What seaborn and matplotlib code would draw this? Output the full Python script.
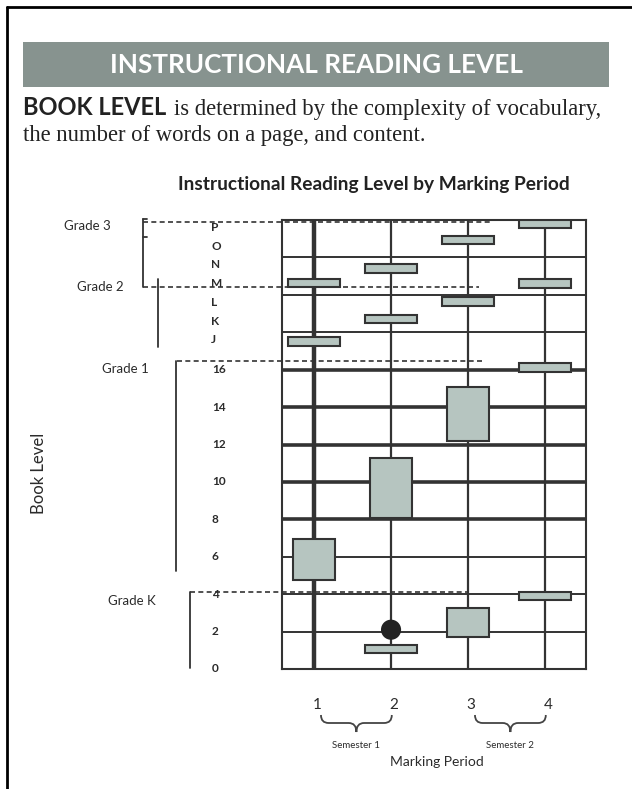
import matplotlib
matplotlib.use("Agg")
import matplotlib.pyplot as plt
import matplotlib.transforms as mtransforms
from matplotlib.lines import Line2D
from matplotlib.patches import Rectangle, PathPatch
from matplotlib.path import Path
import numpy as np
import pandas as pd
import seaborn as sns

# ---- values ----
periods = [1, 2, 3, 4]
period_labels = ["1", "2", "3", "4"]
semesters = ["Semester 1", "Semester 2"]
semester_start = [1, 3]
semester_end = [2, 4]

letter_levels = ["J", "K", "L", "M", "N", "O", "P"]
letter_pos = [17.6, 18.6, 19.6, 20.6, 21.6, 22.6, 23.6]
number_levels = [0, 2, 4, 6, 8, 10, 12, 14, 16]

grades = ["Grade K", "Grade 1", "Grade 2", "Grade 3"]
grade_start = [4.1, 16.45, 20.42, 23.9]
grade_top = [4.1, 16.45, 20.85, 24.05]
grade_bottom = [0.05, 5.25, 17.2, 20.42]

bar_period = [1, 1, 1, 2, 2, 2, 2, 3, 3, 3, 3, 4, 4, 4, 4]
bar_low = [20.42, 17.26, 4.76, 21.17, 18.49, 8.07, 0.86,
           22.71, 19.40, 12.19, 1.71, 23.57, 20.36, 15.87, 3.69]
bar_high = [20.84, 17.74, 6.95, 21.65, 18.92, 11.28, 1.28,
            23.14, 19.88, 15.07, 3.26, 24.0, 20.84, 16.35, 4.12]

dot_period = [2]
dot_level = [2.1]

# ---- style ----
W, H = 632, 789
line_c = "#333333"
box_c = "#b6c5c0"
band_c = "#87938f"
text_c = "#2b2b2b"
sans = ["Lato", "DejaVu Sans"]
serif = ["Liberation Serif", "DejaVu Serif"]

sns.set_theme(style="white")
plt.rcParams["font.family"] = sans

fig = plt.figure(figsize=(W / 100, H / 100), dpi=100)
# image pixel coords, y downwards
pix = mtransforms.Affine2D().scale(1 / W, -1 / H).translate(0, 1) + fig.transFigure

ax = fig.add_axes([282 / W, 1 - 669 / H, (586 - 282) / W, (669 - 220) / H])
px_y = mtransforms.blended_transform_factory(pix, ax.transData)
x_py = mtransforms.blended_transform_factory(ax.transData, pix)

# grid
for lv in range(2, 24, 2):
    ax.axhline(lv, color=line_c, lw=2.6 if 8 <= lv <= 16 else 1.4, zorder=1)
for p in periods:
    ax.axvline(p, color=line_c, lw=3.2 if p == 1 else 1.6, zorder=1)
for s in ax.spines.values():
    s.set_color(line_c)
    s.set_linewidth(1.5)

# grade dashed lines and brackets
dash_x0 = [190, 177, 143, 143]
dash_x1 = [468, 482, 479, 490]
bracket_x = [190, 176, 158, 143]
label_xy = [(132, 3.65), (125, 16.05), (100.5, 20.4), (87.5, 23.7)]
for i, g in enumerate(grades):
    ax.plot([dash_x0[i], dash_x1[i]], [grade_start[i]] * 2, transform=px_y,
            color=line_c, lw=1.2, ls=(0, (3, 2)), clip_on=False, zorder=2)
    ax.plot([bracket_x[i]] * 2, [grade_bottom[i], grade_top[i]], transform=px_y,
            color=line_c, lw=1.3, clip_on=False)
    ax.text(label_xy[i][0], label_xy[i][1], g, transform=px_y, ha="center",
            va="center", fontsize=9.5, color=text_c)
ax.plot([143, 147], [24.05, 24.05], transform=px_y, color=line_c, lw=1.3, clip_on=False)
ax.plot([143, 147], [23.1, 23.1], transform=px_y, color=line_c, lw=1.3, clip_on=False)

# level labels
for lab, pos in zip(letter_levels, letter_pos):
    ax.text(211, pos, lab, transform=px_y, ha="left", va="center",
            fontsize=8.5, fontweight="bold", color=text_c)
for v in number_levels:
    ax.text(212, v, str(v), transform=px_y, ha="left", va="center",
            fontsize=8.5, fontweight="bold", color=text_c)

# bars
df = pd.DataFrame({"period": bar_period, "low": bar_low, "high": bar_high})
df["span"] = df["high"] - df["low"]
widths = np.where(df["span"] < 0.6, 0.68, 0.55)
ax.bar(df["period"], df["span"], bottom=df["low"], width=widths, color=box_c,
       edgecolor=line_c, linewidth=1.5, zorder=3)
sns.scatterplot(x=dot_period, y=dot_level, s=210, color="#222222",
                edgecolor="none", ax=ax, zorder=4, legend=False)

ax.set_xlim(0.584, 4.532)
ax.set_ylim(0, 24)
ax.set_xticks([])
ax.set_yticks([])
ax.set_xlabel("")
ax.set_ylabel("")

# x labels and braces
for p, lab in zip(periods, period_labels):
    ax.text(p + 0.04, 705, lab, transform=x_py, ha="center", va="center",
            fontsize=11, color=text_c)
for name, a, b in zip(semesters, semester_start, semester_end):
    x0, x1 = a + 0.09, b + 0.01
    xm = (x0 + x1) / 2
    d = 0.1
    verts = [(x0, 715), (x0, 723), (x0 + d, 723), (xm - d, 723), (xm, 723), (xm, 732),
             (xm, 723), (xm + d, 723), (x1 - d, 723), (x1, 723), (x1, 715)]
    codes = [Path.MOVETO, Path.CURVE3, Path.CURVE3, Path.LINETO, Path.CURVE3, Path.CURVE3,
             Path.CURVE3, Path.CURVE3, Path.LINETO, Path.CURVE3, Path.CURVE3]
    ax.add_patch(PathPatch(Path(verts, codes), transform=x_py, fill=False,
                           edgecolor="#444444", lw=1.3, clip_on=False))
    ax.text(xm, 746, name, transform=x_py, ha="center", va="center",
            fontsize=7, color=text_c)
fig.text(437, 762, "Marking Period", transform=pix, ha="center", va="center",
         fontsize=10, color=text_c)
fig.text(38.5, 473, "Book Level", transform=pix, ha="center", va="center",
         rotation=90, fontsize=12, color=text_c)

# header and intro text
fig.add_artist(Rectangle((23, 42), 586, 45, transform=pix, color=band_c, lw=0))
head = fig.text(316, 65, "INSTRUCTIONAL READING LEVEL", transform=pix, ha="center",
                va="center", fontsize=17, fontweight="bold", color="white")
book = fig.text(23, 115, "BOOK LEVEL", transform=pix, ha="left", va="baseline",
                fontsize=15, fontweight="bold", color="#222222")
line1 = fig.text(174, 115, "is determined by the complexity of vocabulary,",
                 transform=pix, ha="left", va="baseline", fontsize=15,
                 family=serif, color="#222222")
line2 = fig.text(23, 141, "the number of words on a page, and content.",
                 transform=pix, ha="left", va="baseline", fontsize=15,
                 family=serif, color="#222222")
title = fig.text(374, 190, "Instructional Reading Level by Marking Period",
                 transform=pix, ha="center", va="baseline", fontsize=12,
                 fontweight="bold", color="#222222")

renderer = fig.canvas.get_renderer()


def fit_width(t, target):
    w = t.get_window_extent(renderer).width
    t.set_fontsize(t.get_fontsize() * target / w)


fit_width(head, 411)
fit_width(book, 143)
fit_width(line1, 428)
line2.set_fontsize(line1.get_fontsize())
fit_width(title, 392)

# page frame
fig.add_artist(Line2D([7, 7], [7, 789], transform=pix, color="black", lw=2))
fig.add_artist(Line2D([7, 632], [7, 7], transform=pix, color="black", lw=2))

fig.savefig("out.png", dpi=100)
